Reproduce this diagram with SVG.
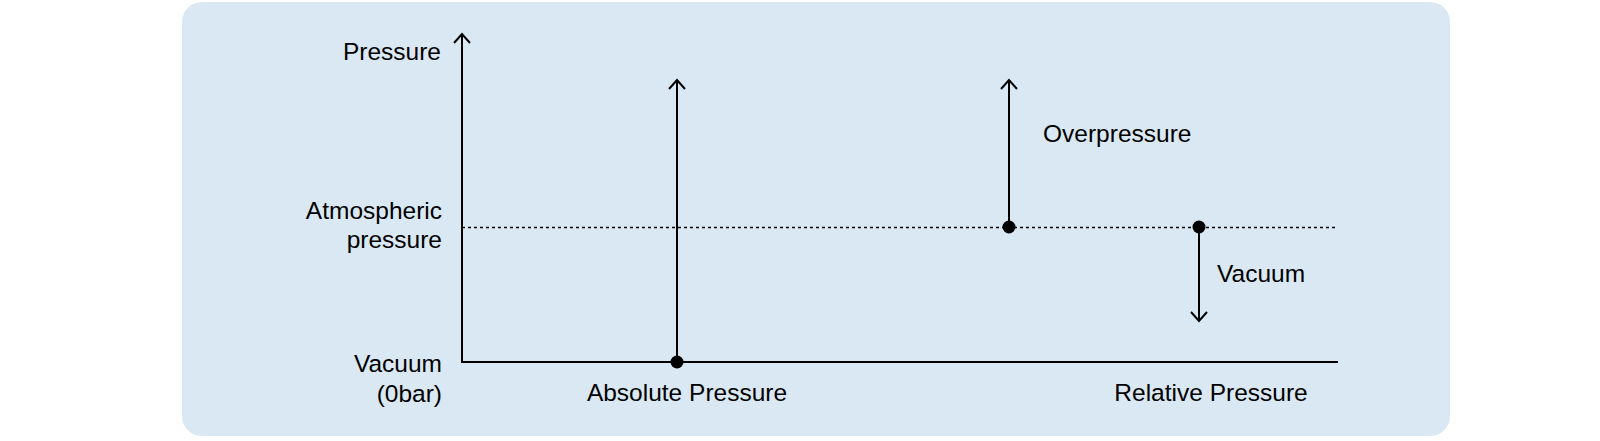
<svg xmlns="http://www.w3.org/2000/svg" width="1600" height="441" viewBox="0 0 1600 441">
<style>
.t{font-family:"Liberation Sans",Arial,sans-serif;font-size:24.5px;fill:#000}
.r{text-anchor:end}
.m{text-anchor:middle}
.ln{stroke:#000;stroke-width:2;fill:none}
.dot{fill:#000}
</style>
<defs>
<marker id="ah" viewBox="0 0 20 20" refX="10" refY="10" markerWidth="20" markerHeight="20" markerUnits="userSpaceOnUse" orient="auto">
<path d="M1,2 L10,10 L1,18" fill="none" stroke="#000" stroke-width="2"/>
</marker>
</defs>
<rect id="panel" x="182" y="2" width="1268" height="434" rx="20" ry="20" fill="#dae8f3"/>
<g id="connectors">
<line class="ln" x1="462" y1="362" x2="462" y2="34" marker-end="url(#ah)"/>
<line class="ln" x1="461" y1="362" x2="1338" y2="362"/>
<line x1="462" y1="227.5" x2="1338" y2="227.5" stroke="#000" stroke-width="1.5" stroke-dasharray="3,3"/>
<line class="ln" x1="677" y1="362" x2="677" y2="80" marker-end="url(#ah)"/>
<line class="ln" x1="1009" y1="227" x2="1009" y2="80" marker-end="url(#ah)"/>
<line class="ln" x1="1199" y1="227" x2="1199" y2="321" marker-end="url(#ah)"/>
</g>
<g id="axis-labels">
<text class="t r" x="441" y="60">Pressure</text>
<text class="t r" x="442" y="219">Atmospheric</text>
<text class="t r" x="442" y="248">pressure</text>
<text class="t r" x="442" y="372">Vacuum</text>
<text class="t r" x="442" y="402">(0bar)</text>
</g>
<g id="absolute">
<circle class="dot" cx="677" cy="362" r="6.5"/>
<text class="t m" x="687" y="401">Absolute Pressure</text>
</g>
<g id="overpressure">
<circle class="dot" cx="1009" cy="227" r="6.5"/>
<text class="t" x="1043" y="142">Overpressure</text>
</g>
<g id="vacuum">
<circle class="dot" cx="1199" cy="227" r="6.5"/>
<text class="t" x="1217" y="282">Vacuum</text>
</g>
<g id="relative">
<text class="t m" x="1211" y="401">Relative Pressure</text>
</g>
</svg>
